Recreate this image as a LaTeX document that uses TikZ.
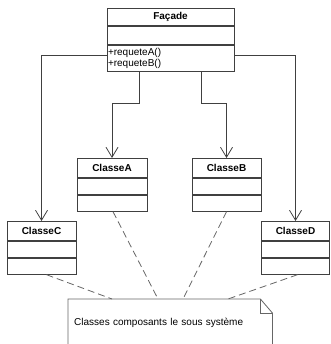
\documentclass[tikz,border=0pt]{standalone}
\usepackage{fontspec}
\setmainfont{Liberation Sans}
\usetikzlibrary{positioning,arrows.meta}
\definecolor{umlline}{rgb}{0.25, 0.25, 0.25}
\definecolor{noteline}{rgb}{0.4, 0.4, 0.4}
\tikzset{
  classname/.style={draw=umlline, line width=0.9pt, font=\bfseries, inner sep=0pt, anchor=north},
  classpart/.style={draw=umlline, line width=0.9pt, inner sep=0pt},
  assoc/.style={draw=umlline, line width=0.8pt, -{Straight Barb[length=10pt, width=12pt]}},
  anchorline/.style={draw=noteline, line width=0.8pt, dash pattern=on 7pt off 4pt}
}
\newcommand{\umlclass}[4]{
\node[classname, minimum width=#3, minimum height=19pt] (#1) at #2 {#4};
\node[classpart, minimum width=#3, minimum height=16pt, below=0pt of #1] (#1attr) {};
\node[classpart, minimum width=#3, minimum height=16pt, below=0pt of #1attr] (#1ops) {};
}

\begin{document}
\begin{tikzpicture}[x=1pt, y=-1pt, font=\fontsize{10}{10.5}\selectfont]
\useasboundingbox (0,0) rectangle (330,344);

% facade
\node[classname, minimum width=127pt, minimum height=17pt] (facade) at (170.5,8) {Façade};
\node[classpart, minimum width=127pt, minimum height=18pt, below=0pt of facade] (facadeattr) {};
\node[classpart, minimum width=127pt, minimum height=26pt, text width=125pt, inner xsep=1pt, align=left, below=0pt of facadeattr] (facadeops) {+requeteA()\\+requeteB()};

% classes
\umlclass{classA}{(112,158)}{70pt}{ClasseA}
\umlclass{classB}{(226.5,158)}{69pt}{ClasseB}
\umlclass{classC}{(41.5,221)}{69pt}{ClasseC}
\umlclass{classD}{(295.5,221)}{68pt}{ClasseD}

% note
\node[anchor=north west, text width=192pt, inner xsep=6pt, inner ysep=0pt, text height=26pt, text depth=36pt, align=left] (note) at (68,299) {Classes composants le sous système};
\draw[noteline, line width=0.8pt] (note.north west) -- ([xshift=-12pt]note.north east) -- ([yshift=-14pt]note.north east) -- (note.south east) -- (note.south west) -- cycle;
\draw[noteline, line width=0.8pt] ([xshift=-12pt]note.north east) |- ([yshift=-14pt]note.north east);

% associations
\draw[assoc] ([yshift=3pt]facadeops.west) -| (classC.north);
\draw[assoc] ([yshift=3pt]facadeops.east) -| (classD.north);
\draw[assoc] ([xshift=-31pt]facadeops.south) -- ++(0,32) -| (classA.north);
\draw[assoc] ([xshift=31pt]facadeops.south) -- ++(0,32) -| (classB.north);

% note anchors
\draw[anchorline] ([xshift=5pt]classCops.south) -- ([xshift=44pt]note.north west);
\draw[anchorline] ([xshift=1pt]classAops.south) -- ([xshift=90pt]note.north west);
\draw[anchorline] (classBops.south) -- ([xshift=115pt]note.north west);
\draw[anchorline] ([xshift=2pt]classDops.south) -- ([xshift=160pt]note.north west);
\end{tikzpicture}
\end{document}
